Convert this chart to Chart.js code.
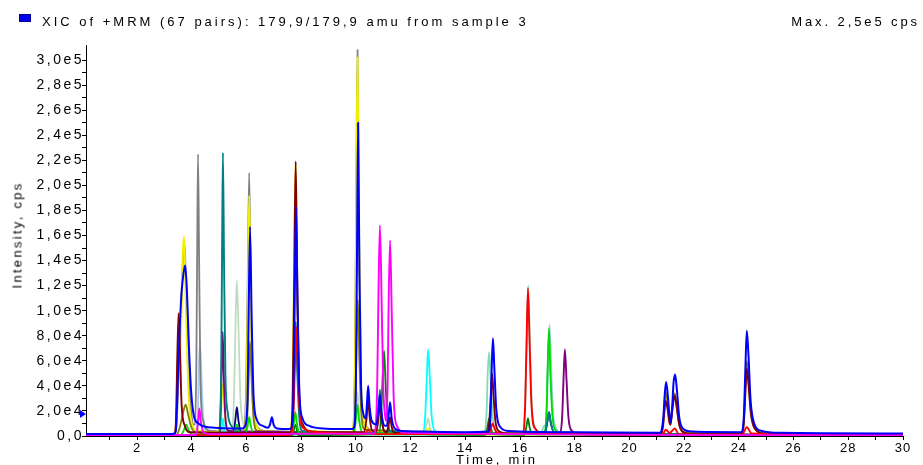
<!DOCTYPE html>
<html><head><meta charset="utf-8">
<script src="https://cdn.jsdelivr.net/npm/chart.js@4.4.0/dist/chart.umd.min.js"></script>
<style>
html,body{margin:0;padding:0;background:#fff;width:923px;height:465px;overflow:hidden;}
#wrap{position:relative;width:923px;height:465px;}
canvas{position:absolute;left:0;top:0;}
.t{position:absolute;font-family:"Liberation Sans",Arial,sans-serif;color:#000;white-space:nowrap;line-height:1;}
</style></head><body>
<div id="wrap">
<canvas id="c" width="923" height="465"></canvas>
<div id="sq" style="position:absolute;left:19px;top:14px;width:10px;height:6px;background:#0000F0;border:1px solid #00008A;"></div>
<div class="t" id="title" style="left:42px;top:15px;font-size:13px;letter-spacing:3px;">XIC of +MRM (67 pairs): 179,9/179,9 amu from sample 3</div>
<div class="t" id="maxv" style="right:3px;top:15px;font-size:13px;letter-spacing:2.9px;">Max. 2,5e5 cps</div>
<div class="t" id="ytitle" style="left:17px;top:235px;font-size:13px;letter-spacing:2.3px;transform:translate(-50%,-50%) rotate(-90deg);">Intensity, cps</div>
<div class="t" id="xtitle" style="left:497px;top:459px;font-size:13px;letter-spacing:2.8px;transform:translate(-50%,-50%);">Time, min</div>
</div>
<script>
// ---- tick values ----
const xTickValues = [1,2,3,4,5,6,7,8,9,10,11,12,13,14,15,16,17,18,19,20,21,22,23,24,25,26,27,28,29,30];
const yTickValues = [0,10000,20000,30000,40000,50000,60000,70000,80000,90000,100000,110000,120000,130000,140000,150000,160000,170000,180000,190000,200000,210000,220000,230000,240000,250000,260000,270000,280000,290000,300000];

// ---- traces: [time(min), intensity(cps)] ----
const blueTrace = [[0.13,1500],[3.3,1500],[3.42,4000],[3.47,30000],[3.55,80000],[3.62,112000],[3.7,130000],[3.76,136000],[3.82,118000],[3.9,70000],[3.98,35000],[4.08,16000],[4.25,10000],[4.6,7000],[5.85,6000],[5.95,8000],[6.04,30000],[6.08,95000],[6.13,167000],[6.19,95000],[6.26,32000],[6.38,13000],[6.6,8000],[6.78,6500],[6.86,9000],[6.93,15000],[7.0,8500],[7.12,6000],[7.55,5500],[7.62,6000],[7.71,25000],[7.76,100000],[7.81,183000],[7.87,100000],[7.94,32000],[8.05,14000],[8.3,8000],[8.8,6000],[9.5,5500],[9.86,5500],[9.95,8000],[10.0,40000],[10.04,140000],[10.08,250000],[10.13,130000],[10.19,40000],[10.27,18000],[10.36,14000],[10.4,24000],[10.45,40000],[10.5,24000],[10.58,12000],[10.75,9000],[10.82,20000],[10.88,33000],[10.94,18000],[11.02,9000],[11.12,8000],[11.19,15000],[11.25,27000],[11.31,14000],[11.42,6000],[11.7,4000],[12.5,3500],[14,3000],[14.84,3500],[14.92,15000],[14.96,50000],[15.01,78000],[15.06,55000],[15.13,22000],[15.25,8000],[15.6,4000],[18,3000],[21.1,2500],[21.16,3500],[21.24,15000],[21.29,33000],[21.34,43000],[21.4,33000],[21.47,15000],[21.51,11000],[21.56,22000],[21.61,42000],[21.67,49000],[21.73,38000],[21.82,15000],[21.95,6000],[22.3,3500],[24.08,3000],[24.18,15000],[24.24,55000],[24.29,84000],[24.35,65000],[24.43,28000],[24.56,10000],[24.85,4000],[25.5,2500],[30,2000]];
const yellowTrace = [[0.13,800],[3.35,900],[3.42,8000],[3.47,50000],[3.52,92000],[3.57,62000],[3.62,90000],[3.67,145000],[3.72,159000],[3.78,110000],[3.87,40000],[3.98,12000],[4.15,5000],[4.8,3000],[4.98,3000],[5.07,20000],[5.14,42000],[5.2,20000],[5.3,5000],[5.6,3000],[5.9,3000],[6.0,30000],[6.05,110000],[6.1,192000],[6.16,110000],[6.23,32000],[6.35,9000],[6.6,4000],[7.58,3000],[7.68,30000],[7.735,120000],[7.79,216000],[7.85,115000],[7.92,32000],[8.03,10000],[8.35,4000],[9.86,3000],[9.96,40000],[10.01,170000],[10.06,302000],[10.12,160000],[10.19,45000],[10.3,12000],[10.6,4000],[12.45,2000],[12.64,6000],[12.82,2000],[17.5,1000],[17.7,3000],[17.9,1000],[30,800]];
const grayTrace = [[0.13,900],[3.4,1000],[3.47,20000],[3.55,70000],[3.63,115000],[3.69,145000],[3.74,153000],[3.81,105000],[3.9,45000],[4.0,15000],[4.07,9000],[4.12,9000],[4.17,60000],[4.2,150000],[4.23,225000],[4.27,140000],[4.32,42000],[4.42,12000],[4.7,4000],[5.9,3000],[5.99,40000],[6.05,130000],[6.1,210000],[6.155,120000],[6.22,36000],[6.35,9000],[6.7,4000],[9.87,3000],[9.96,50000],[10.01,180000],[10.06,308000],[10.115,170000],[10.18,42000],[10.3,11000],[10.7,4000],[13,2000],[30,1200]];
const maroonTrace = [[0.13,800],[3.35,900],[3.42,10000],[3.47,60000],[3.52,98000],[3.57,70000],[3.63,25000],[3.75,8000],[3.95,3000],[7.6,2500],[7.69,30000],[7.745,125000],[7.8,219000],[7.86,120000],[7.93,35000],[8.04,10000],[8.4,3500],[10.3,3000],[10.39,14000],[10.45,29000],[10.51,14000],[10.6,4000],[10.74,3500],[10.82,13000],[10.88,26000],[10.94,13000],[11.03,4000],[11.13,3000],[11.19,8000],[11.25,15000],[11.31,7000],[11.43,2500],[14.8,2000],[14.88,12000],[14.93,32000],[14.98,50000],[15.03,33000],[15.1,12000],[15.22,4000],[15.6,2000],[21.15,1500],[21.23,8000],[21.28,20000],[21.33,28000],[21.39,22000],[21.46,11000],[21.5,9000],[21.55,17000],[21.61,28000],[21.66,32000],[21.72,24000],[21.82,9000],[21.98,3000],[22.35,1500],[24.08,1500],[24.18,10000],[24.24,35000],[24.29,54000],[24.35,42000],[24.44,18000],[24.58,6000],[24.95,2000],[30,800]];
const oliveTrace = [[0.13,800],[3.45,1000],[3.55,6000],[3.65,15000],[3.72,22000],[3.78,25000],[3.86,18000],[3.97,8000],[4.15,3000],[5.93,2500],[6.03,15000],[6.08,45000],[6.13,75000],[6.19,45000],[6.26,14000],[6.4,4000],[9.88,2500],[9.97,20000],[10.02,65000],[10.07,109000],[10.13,60000],[10.2,18000],[10.33,5000],[21.15,1500],[21.23,10000],[21.28,25000],[21.33,35000],[21.39,27000],[21.46,12000],[21.5,10000],[21.55,20000],[21.61,30000],[21.66,34000],[21.72,25000],[21.82,9000],[21.98,3000],[24.08,1500],[24.18,12000],[24.24,40000],[24.29,60000],[24.35,46000],[24.44,19000],[24.58,6000],[24.95,2000],[30,800]];
const tealTrace = [[0.13,700],[4.95,900],[5.02,3000],[5.08,60000],[5.11,150000],[5.14,226000],[5.18,140000],[5.23,50000],[5.32,18000],[5.45,8000],[5.65,3000],[7.62,2000],[7.7,18000],[7.75,55000],[7.8,91000],[7.86,50000],[7.93,15000],[8.05,4000],[10.74,2500],[10.82,18000],[10.88,37000],[10.94,18000],[11.04,4000],[16.9,2000],[16.99,11000],[17.06,19000],[17.12,11000],[17.25,3000],[30,700]];
const purpleTrace = [[0.13,700],[4.95,800],[5.02,3000],[5.07,30000],[5.1,60000],[5.13,83000],[5.17,50000],[5.23,15000],[5.35,4000],[17.45,1500],[17.54,15000],[17.59,45000],[17.64,69000],[17.7,45000],[17.77,15000],[17.9,4000],[18.2,1500],[30,700]];
const redTrace = [[0.13,600],[7.55,800],[7.64,2000],[7.72,20000],[7.77,55000],[7.82,87000],[7.88,50000],[7.96,16000],[8.1,6000],[8.6,3000],[10.33,1500],[10.45,5000],[10.57,1500],[14.85,1500],[14.93,6000],[15.0,10000],[15.07,6000],[15.18,2000],[16.08,1500],[16.18,20000],[16.235,70000],[16.29,118000],[16.35,75000],[16.42,25000],[16.55,6000],[16.9,2000],[21.2,1000],[21.33,5000],[21.47,2500],[21.66,6000],[21.8,1500],[24.12,1000],[24.29,7000],[24.47,2000],[30,600]];
const greenTrace = [[0.13,500],[3.6,700],[3.7,4000],[3.8,9000],[3.9,4000],[4.05,1000],[5.55,1500],[5.65,9000],[5.75,1500],[5.98,2000],[6.05,9000],[6.1,15000],[6.16,8000],[6.25,2000],[7.66,2000],[7.73,10000],[7.79,19000],[7.85,9000],[7.95,2000],[9.93,2000],[10.0,13000],[10.06,25000],[10.12,12000],[10.24,2500],[16.88,1500],[16.97,20000],[17.01,55000],[17.06,86000],[17.11,50000],[17.19,15000],[17.32,4000],[17.6,1500],[30,500]];
const darkGreenTrace = [[0.13,300],[7.68,500],[7.79,9000],[7.9,600],[10.85,2000],[10.94,25000],[10.98,48000],[11.03,68000],[11.09,40000],[11.16,12000],[11.3,3000],[14.74,1000],[14.81,7000],[14.87,14000],[14.93,7000],[15.03,1500],[16.16,1000],[16.23,7000],[16.29,14000],[16.35,7000],[16.45,1500],[30,300]];
const magentaTrace = [[0.13,600],[4.12,800],[4.19,3000],[4.24,14000],[4.28,22000],[4.33,12000],[4.43,3000],[4.65,1500],[10.68,2000],[10.78,40000],[10.83,120000],[10.88,168000],[10.94,110000],[11.0,40000],[11.07,16000],[11.11,12000],[11.16,40000],[11.2,110000],[11.25,156000],[11.31,100000],[11.38,32000],[11.5,8000],[11.8,2500],[30,600]];
const lightBlueTrace = [[0.13,600],[4.12,800],[4.18,3000],[4.23,25000],[4.26,55000],[4.3,75000],[4.35,50000],[4.42,15000],[4.55,4000],[16.88,1500],[16.98,20000],[17.03,60000],[17.08,89000],[17.14,55000],[17.21,18000],[17.35,5000],[17.6,1500],[30,600]];
const paleGreenTrace = [[0.13,600],[5.4,900],[5.47,3000],[5.55,35000],[5.6,90000],[5.65,124000],[5.71,85000],[5.78,30000],[5.9,9000],[6.1,3000],[9.9,2000],[9.99,18000],[10.06,35000],[10.12,18000],[10.25,3000],[12.48,1500],[12.57,8000],[12.64,14000],[12.71,7000],[12.82,1500],[30,600]];
const cyanTrace = [[0.13,600],[5.0,800],[5.07,2000],[5.14,14000],[5.21,2000],[12.44,1500],[12.53,15000],[12.59,45000],[12.64,69000],[12.7,48000],[12.77,16000],[12.9,4000],[13.2,1500],[30,600]];
const navyTrace = [[0.13,600],[5.45,900],[5.53,2500],[5.59,12000],[5.65,23000],[5.71,12000],[5.8,3000],[16.9,1500],[16.99,10000],[17.06,19000],[17.13,10000],[17.25,2500],[30,600]];
const mintTrace = [[0.13,600],[14.65,900],[14.7,2000],[14.78,20000],[14.82,50000],[14.87,67000],[14.93,45000],[15.0,15000],[15.12,4000],[15.45,1500],[16.1,1500],[16.19,25000],[16.245,75000],[16.3,120000],[16.36,75000],[16.43,25000],[16.55,7000],[16.78,3000],[16.88,8000],[16.95,10000],[17.0,45000],[17.06,80000],[17.12,50000],[17.19,18000],[17.32,5000],[17.6,1500],[30,600]];

const traceList = [blueTrace, magentaTrace, redTrace, maroonTrace, tealTrace, greenTrace, darkGreenTrace, purpleTrace, navyTrace, oliveTrace, cyanTrace, mintTrace, yellowTrace, grayTrace, lightBlueTrace, paleGreenTrace];
const traceColors = ['#0000FF','#FF00FF','#FF0000','#800000','#008080','#00DD00','#008000','#800080','#000080','#808000','#00FFFF','#7FDDB5','#F0F000','#808080','#A6CAF0','#C0DCC0'];
const traceWidths = [2,1.9,1.9,1.9,1.9,1.8,1.8,1.9,1.8,1.8,1.8,1.8,1.9,1.8,1.8,1.8];

const FONT = '"Liberation Sans", Arial, sans-serif';

function yLabel(v){
  if (v % 20000 !== 0) return '';
  if (v === 0) return '0,0';
  const e = Math.floor(Math.log10(v));
  const m = (v / Math.pow(10, e)).toFixed(1).replace('.', ',');
  return m + 'e' + e;
}

const markerPlugin = {
  id: 'marker',
  afterDraw(chart){
    const ctx = chart.ctx, ys = chart.scales.y, left = chart.chartArea.left;
    const y = ys.getPixelForValue(17500);
    ctx.save();
    ctx.fillStyle = '#0000FF';
    ctx.beginPath();
    ctx.moveTo(left - 6, y - 4);
    ctx.lineTo(left, y);
    ctx.lineTo(left - 6, y + 4);
    ctx.closePath();
    ctx.fill();
    ctx.restore();
  }
};

function spaced(scale, px){
  if (scale._spacedWrap) return;
  const orig = scale.drawLabels.bind(scale);
  scale.drawLabels = function(area){
    const ctx = scale.ctx;
    ctx.save();
    ctx.letterSpacing = px;
    orig(area);
    ctx.restore();
  };
  scale._spacedWrap = true;
}

new Chart(document.getElementById('c'), {
  type: 'line',
  data: {
    datasets: traceList.map((tr, i) => ({
      data: tr,
      borderColor: traceColors[i],
      borderWidth: traceWidths[i],
      pointRadius: 0,
      fill: false,
      cubicInterpolationMode: 'monotone'
    }))
  },
  options: {
    responsive: false,
    animation: false,
    devicePixelRatio: 1,
    layout: { padding: { top: 45, right: 20, left: 0, bottom: 0 } },
    plugins: { legend: { display: false }, tooltip: { enabled: false } },
    scales: {
      x: {
        type: 'linear', min: 0.135, max: 30,
        afterBuildTicks: s => { s.ticks = xTickValues.map(v => ({ value: v })); },
        afterFit: s => { s.height = 29; spaced(s, '1px'); },
        ticks: { callback: v => (v % 2 === 0 ? String(v) : ''), autoSkip: false, maxRotation: 0, color: '#000', font: { size: 13, family: FONT }, padding: 1 },
        grid: { drawOnChartArea: false, drawTicks: true, tickLength: 4, color: '#000' },
        border: { color: '#000', width: 1 }
      },
      y: {
        type: 'linear', min: 0, max: 312000,
        afterBuildTicks: s => { s.ticks = yTickValues.map(v => ({ value: v })); },
        afterFit: s => { s.width = 86; spaced(s, '2.5px'); },
        ticks: { callback: yLabel, autoSkip: false, color: '#000', font: { size: 14, family: FONT }, padding: -2 },
        grid: { drawOnChartArea: false, drawTicks: true, tickLength: 4, color: '#000' },
        border: { color: '#000', width: 1 }
      }
    }
  },
  plugins: [markerPlugin]
});
</script>
</body></html>
